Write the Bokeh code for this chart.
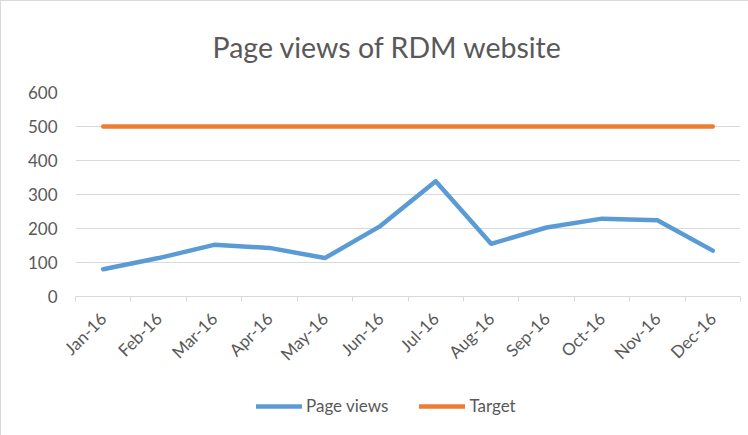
from bokeh.plotting import figure
from bokeh.layouts import column
from bokeh.models import FixedTicker, Legend, LegendItem, Title, Range1d
from bokeh.embed import file_html
from bokeh.resources import INLINE
import math

months = ["Jan-16", "Feb-16", "Mar-16", "Apr-16", "May-16", "Jun-16",
          "Jul-16", "Aug-16", "Sep-16", "Oct-16", "Nov-16", "Dec-16"]
page_views = [80, 113, 152, 143, 113, 207, 339, 155, 203, 229, 224, 135]
target = [500] * 12
y_ticks = [0, 100, 200, 300, 400, 500, 600]
series_names = ["Page views", "Target"]
series_colors = ["#5b9bd5", "#ed7d31"]
title_text = "Page views of RDM website"

FONT = "Lato"
TXT = "#595959"
GRID = "#d9d9d9"
W = 748

xs = [i + 0.5 for i in range(len(months))]
series_values = [page_views, target]

# ---- main chart
p = figure(width=W, height=375, output_backend="svg", toolbar_location=None,
           x_range=Range1d(0, len(months)), y_range=Range1d(0, 600),
           min_border_left=74, min_border_right=9, min_border_top=91,
           min_border_bottom=80)
p.outline_line_color = None
p.styles = {"border-left": "1px solid #d9d9d9", "border-top": "1px solid #d9d9d9"}

p.add_layout(Title(text=title_text, align="left", offset=137,
                   vertical_align="top", standoff=54,
                   text_font=FONT, text_font_size="28.5px",
                   text_font_style="normal", text_color=TXT), "above")

for vals, col in zip(series_values, series_colors):
    p.line(xs, vals, line_color=col, line_width=4.5,
           line_cap="round", line_join="round")

p.yaxis.ticker = FixedTicker(ticks=y_ticks)
p.yaxis.axis_line_color = None
p.yaxis.major_tick_line_color = None
p.yaxis.minor_tick_line_color = None
p.yaxis.major_tick_out = 0
p.yaxis.major_label_standoff = 18
p.yaxis.major_label_text_font = FONT
p.yaxis.major_label_text_font_size = "17px"
p.yaxis.major_label_text_color = TXT

p.xaxis.ticker = FixedTicker(ticks=xs, minor_ticks=list(range(len(months) + 1)))
p.xaxis.major_label_overrides = {x: m for x, m in zip(xs, months)}
p.xaxis.axis_line_color = GRID
p.xaxis.major_tick_line_color = None
p.xaxis.major_tick_out = 0
p.xaxis.minor_tick_line_color = GRID
p.xaxis.minor_tick_out = 5
p.xaxis.minor_tick_in = 0
p.xaxis.major_label_orientation = math.pi / 4
p.xaxis.major_label_standoff = 14
p.xaxis.major_label_text_font = FONT
p.xaxis.major_label_text_font_size = "17px"
p.xaxis.major_label_text_color = TXT

p.xgrid.grid_line_color = None
p.ygrid.ticker = FixedTicker(ticks=y_ticks)
p.ygrid.grid_line_color = GRID
p.ygrid.grid_line_width = 1

# ---- legend strip (same series, drawn outside its visible range; only legend shows)
pl = figure(width=W, height=60, output_backend="svg", toolbar_location=None,
            x_range=Range1d(0, len(months)), y_range=Range1d(0, 60),
            x_axis_location=None, y_axis_location=None,
            min_border_left=74, min_border_right=9, min_border_top=0,
            min_border_bottom=0)
pl.grid.grid_line_color = None
pl.outline_line_color = None
pl.styles = {"border-left": "1px solid #d9d9d9"}
items = []
for name, vals, col in zip(series_names, series_values, series_colors):
    r = pl.line(xs, vals, line_color=col, line_width=4.5, line_cap="round")
    items.append(LegendItem(label=name, renderers=[r]))
legend = Legend(items=items, orientation="horizontal", location=(181, 19),
                glyph_width=46, glyph_height=20, label_standoff=4, spacing=31,
                padding=4, margin=0, border_line_color=None,
                background_fill_alpha=0,
                label_text_font=FONT, label_text_font_size="17px",
                label_text_color=TXT)
pl.add_layout(legend, "center")

layout = column(p, pl, spacing=0)
open("out.html", "w").write(file_html(layout, INLINE))
